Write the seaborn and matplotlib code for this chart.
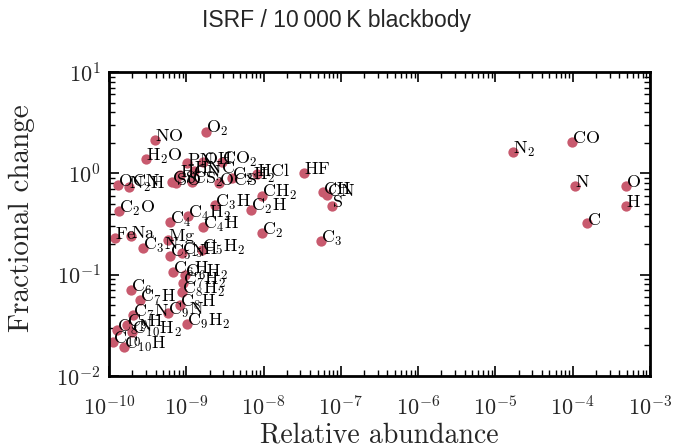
import re
import numpy as np
import pandas as pd
import matplotlib
matplotlib.use("Agg")
import matplotlib.pyplot as plt
from matplotlib import font_manager
import seaborn as sns

species = ["N2", "CO", "N", "O", "H", "C",
           "HF", "CH", "CN", "S", "C3", "HCl", "CH2", "C2H", "C2",
           "O2", "NO", "H2O", "OCN", "N2H", "CS", "SO", "HCN", "CS2", "HNC", "PN", "OH", "OCS", "CO2", "C2H2",
           "C2O", "Fe", "Na", "C3N", "Mg", "C4", "C4H2", "C4H", "C3H",
           "C5N", "C5H", "C5H2", "C6H", "C6H2", "C7H2", "C8H2", "C8H", "C9N", "C9H2",
           "C6", "C7H", "C7N", "C9H", "C8N", "C10H2", "C10", "C10H"]

abundance = [1.68e-5, 9.8e-5, 1.07e-4, 4.9e-4, 4.9e-4, 1.53e-4,
             3.3e-8, 5.9e-8, 6.6e-8, 7.7e-8, 5.5e-8, 8.2e-9, 9.5e-9, 6.9e-9, 9.5e-9,
             1.8e-9, 3.9e-10, 3.0e-10, 1.31e-10, 1.81e-10, 6.5e-10, 7.4e-10, 8.3e-10, 1.19e-9, 1.26e-9, 1.02e-9, 1.64e-9, 2.65e-9, 2.9e-9, 3.9e-9,
             1.35e-10, 1.20e-10, 1.93e-10, 2.75e-10, 5.8e-10, 6.15e-10, 1.05e-9, 1.64e-9, 2.35e-9,
             6.15e-10, 8.8e-10, 1.60e-9, 6.7e-10, 9.6e-10, 9.1e-10, 8.8e-10, 8.3e-10, 5.8e-10, 1.02e-9,
             1.93e-10, 2.52e-10, 2.04e-10, 1.71e-10, 1.27e-10, 1.99e-10, 1.13e-10, 1.56e-10]

frac_change = [1.62, 2.04, 0.75, 0.75, 0.475, 0.32,
               1.01, 0.65, 0.61, 0.475, 0.215, 0.98, 0.60, 0.435, 0.257,
               2.56, 2.13, 1.38, 0.77, 0.73, 0.82, 0.80, 0.96, 0.82, 1.05, 1.26, 1.29, 0.80, 1.29, 0.90,
               0.425, 0.230, 0.240, 0.183, 0.220, 0.330, 0.379, 0.295, 0.486,
               0.153, 0.163, 0.175, 0.106, 0.099, 0.0826, 0.0673, 0.0501, 0.0418, 0.0325,
               0.0705, 0.0561, 0.0399, 0.0318, 0.0284, 0.0271, 0.0216, 0.0193]

x_ticks = [1e-10, 1e-9, 1e-8, 1e-7, 1e-6, 1e-5, 1e-4, 1e-3]
y_ticks = [1e-2, 1e-1, 1e0, 1e1]

sns.set_style("ticks")
plt.rcParams["font.family"] = ["cmr10", "DejaVu Serif"]
plt.rcParams["mathtext.fontset"] = "cm"
plt.rcParams["axes.formatter.use_mathtext"] = True
plt.rcParams["axes.unicode_minus"] = True

df = pd.DataFrame({"species": species, "abundance": abundance, "frac": frac_change})

fig = plt.figure(figsize=(6.74, 4.48), dpi=100)
ax = fig.add_axes([109 / 674, 1 - 376 / 448, 541 / 674, 304 / 448])

sns.scatterplot(data=df, x="abundance", y="frac", ax=ax, color="#c85a6e",
                s=55, linewidth=0, zorder=2, legend=False)
ax.set_xscale("log")
ax.set_yscale("log")
ax.set_xlim(1e-10, 1e-3)
ax.set_ylim(1e-2, 1e1)
ax.set_xticks(x_ticks)
ax.set_yticks(y_ticks)


def fmt(name):
    body = re.sub(r"(\d+)", r"_{\1}", name)
    return r"$\mathrm{" + body + "}$"


for _, r in df.iterrows():
    ax.annotate(fmt(r["species"]), (r["abundance"], r["frac"]), xytext=(0, -1),
                textcoords="offset points", ha="left", va="baseline",
                fontsize=13, color="black", zorder=3)

for sp in ax.spines.values():
    sp.set_linewidth(2)
    sp.set_color("black")
ax.tick_params(which="both", direction="in", top=True, right=True, color="black")
ax.tick_params(which="major", axis="x", length=7, width=1.2, labelsize=16, pad=14)
ax.tick_params(which="major", axis="y", length=7, width=1.2, labelsize=16, pad=6)
ax.tick_params(which="minor", length=4, width=1)
ax.set_xlabel("Relative abundance", fontsize=20)
ax.set_ylabel("Fractional change", fontsize=21)
ax.xaxis.set_label_coords(0.499, -0.194)
ax.xaxis.label.set_va("center")
ax.yaxis.set_label_coords(-0.161, 0.52)
ax.yaxis.label.set_va("center")

names = {f.name for f in font_manager.fontManager.ttflist}
if "Liberation Sans Narrow" in names:
    tfam, tsize = ["Liberation Sans Narrow", "DejaVu Sans"], 19.5
else:
    tfam, tsize = ["Liberation Sans", "DejaVu Sans"], 16.5
fig.text(0.5, 1 - 21 / 448, "ISRF / 10\u2009000\u2009K blackbody", ha="center", va="center",
         fontsize=tsize, family=tfam)

fig.savefig("out.png", dpi=100)
